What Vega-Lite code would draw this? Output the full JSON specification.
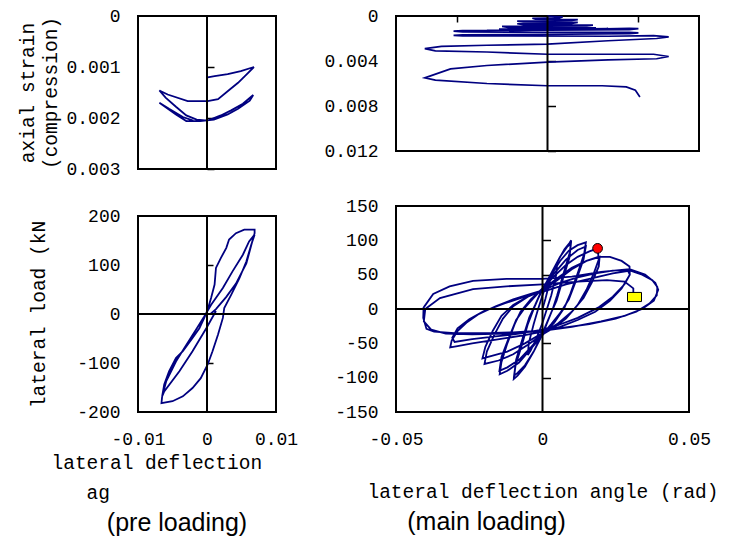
{
"$schema": "https://vega.github.io/schema/vega-lite/v6.json",
"padding": {"left": 16, "top": 6, "right": 0, "bottom": 0},
"config": {
  "view": {"stroke": "black", "strokeWidth": 2},
  "font": "Liberation Sans",
  "axis": {"labelFont": "Liberation Mono", "labelFontSize": 18, "labelColor": "black", "labelFlush": false, "titleFont": "Liberation Mono", "titleFontSize": 19.5, "titleFontWeight": "normal", "titleColor": "black", "grid": false, "format": "~r"},
  "title": {"font": "Liberation Sans", "fontSize": 25, "fontWeight": "normal", "color": "black"},
  "locale": {"number": {"decimal": ".", "thousands": ",", "grouping": [3], "currency": ["$", ""], "minus": "-"}}
},
"datasets": {
  "pre_strain": [{"i":1,"x":-0.0001,"y":0.00121},{"i":2,"x":0.0011,"y":0.00118},{"i":3,"x":0.003,"y":0.00114},{"i":4,"x":0.0049,"y":0.00108},{"i":5,"x":0.0068,"y":0.001},{"i":6,"x":0.006,"y":0.00111},{"i":7,"x":0.0045,"y":0.00131},{"i":8,"x":0.0033,"y":0.00144},{"i":9,"x":0.0016,"y":0.00163},{"i":10,"x":0.0001,"y":0.00167},{"i":11,"x":-0.0028,"y":0.00167},{"i":12,"x":-0.0057,"y":0.00154},{"i":13,"x":-0.0069,"y":0.00146},{"i":14,"x":-0.006,"y":0.0016},{"i":15,"x":-0.0045,"y":0.00178},{"i":16,"x":-0.003,"y":0.00195},{"i":17,"x":-0.0015,"y":0.00203},{"i":18,"x":0.0001,"y":0.00205},{"i":19,"x":0.002,"y":0.00195},{"i":20,"x":0.0035,"y":0.00185},{"i":21,"x":0.0052,"y":0.00172},{"i":22,"x":0.0067,"y":0.00155},{"i":23,"x":0.0062,"y":0.00166},{"i":24,"x":0.0045,"y":0.00182},{"i":25,"x":0.003,"y":0.00193},{"i":26,"x":0.001,"y":0.00203},{"i":27,"x":-0.001,"y":0.00206},{"i":28,"x":-0.003,"y":0.00206},{"i":29,"x":-0.0045,"y":0.00193},{"i":30,"x":-0.0069,"y":0.0017},{"i":31,"x":-0.0055,"y":0.00182},{"i":32,"x":-0.0035,"y":0.00198},{"i":33,"x":-0.002,"y":0.00205}],
  "pre_load": [{"i":1,"x":0.0005,"y":0},{"i":2,"x":0.0013,"y":10},{"i":3,"x":0.0028,"y":35},{"i":4,"x":0.0042,"y":62},{"i":5,"x":0.0057,"y":103},{"i":6,"x":0.0066,"y":150},{"i":7,"x":0.0069,"y":165},{"i":8,"x":0.0069,"y":172},{"i":9,"x":0.0054,"y":172},{"i":10,"x":0.0042,"y":165},{"i":11,"x":0.0032,"y":152},{"i":12,"x":0.0028,"y":135},{"i":13,"x":0.002,"y":114},{"i":14,"x":0.0013,"y":94},{"i":15,"x":0.0011,"y":60},{"i":16,"x":0.0006,"y":33},{"i":17,"x":0.0001,"y":9},{"i":18,"x":-0.0004,"y":-8},{"i":19,"x":-0.0011,"y":-29},{"i":20,"x":-0.0021,"y":-49},{"i":21,"x":-0.0035,"y":-76},{"i":22,"x":-0.0045,"y":-90},{"i":23,"x":-0.0055,"y":-117},{"i":24,"x":-0.0062,"y":-144},{"i":25,"x":-0.0065,"y":-168},{"i":26,"x":-0.0066,"y":-182},{"i":27,"x":-0.005,"y":-178},{"i":28,"x":-0.0035,"y":-168},{"i":29,"x":-0.0021,"y":-151},{"i":30,"x":-0.0009,"y":-131},{"i":31,"x":0.0001,"y":-103},{"i":32,"x":0.0008,"y":-76},{"i":33,"x":0.0016,"y":-42},{"i":34,"x":0.0023,"y":-8},{"i":35,"x":0.0025,"y":12},{"i":36,"x":0.0035,"y":39},{"i":37,"x":0.0047,"y":73},{"i":38,"x":0.0057,"y":107},{"i":39,"x":0.0064,"y":141},{"i":40,"x":0.0069,"y":162},{"i":41,"x":0.0061,"y":148},{"i":42,"x":0.0052,"y":121},{"i":43,"x":0.0037,"y":87},{"i":44,"x":0.0023,"y":53},{"i":45,"x":0.0006,"y":19},{"i":46,"x":-0.0004,"y":-5},{"i":47,"x":-0.0016,"y":-32},{"i":48,"x":-0.003,"y":-63},{"i":49,"x":-0.0045,"y":-97},{"i":50,"x":-0.0059,"y":-137},{"i":51,"x":-0.0065,"y":-168},{"i":52,"x":-0.0062,"y":-158},{"i":53,"x":-0.004,"y":-117},{"i":54,"x":-0.0021,"y":-76},{"i":55,"x":-0.0001,"y":-29},{"i":56,"x":0.0013,"y":6}],
  "main_strain": [{"i":1,"x":0,"y":0},{"i":2,"x":0.005,"y":0.00008},{"i":3,"x":0.004,"y":0.00016},{"i":4,"x":-0.005,"y":0.0002},{"i":5,"x":-0.004,"y":0.00028},{"i":6,"x":0.01,"y":0.00032},{"i":7,"x":0.008,"y":0.0004},{"i":8,"x":-0.01,"y":0.00045},{"i":9,"x":-0.008,"y":0.00053},{"i":10,"x":0.01,"y":0.00057},{"i":11,"x":0.008,"y":0.00065},{"i":12,"x":-0.01,"y":0.00069},{"i":13,"x":-0.008,"y":0.00077},{"i":14,"x":0.015,"y":0.00081},{"i":15,"x":0.013,"y":0.00089},{"i":16,"x":-0.015,"y":0.00093},{"i":17,"x":-0.013,"y":0.00101},{"i":18,"x":0.016,"y":0.00105},{"i":19,"x":0.014,"y":0.00112},{"i":20,"x":-0.016,"y":0.00116},{"i":21,"x":-0.014,"y":0.00123},{"i":22,"x":0.02,"y":0.00112},{"i":23,"x":0.018,"y":0.0012},{"i":24,"x":-0.02,"y":0.00128},{"i":25,"x":-0.018,"y":0.00135},{"i":26,"x":0.027,"y":0.0011},{"i":27,"x":0.03,"y":0.00112},{"i":28,"x":0.027,"y":0.00122},{"i":29,"x":-0.028,"y":0.0013},{"i":30,"x":-0.031,"y":0.00135},{"i":31,"x":-0.028,"y":0.00142},{"i":32,"x":0.027,"y":0.00145},{"i":33,"x":0.03,"y":0.0015},{"i":34,"x":0.027,"y":0.00158},{"i":35,"x":-0.028,"y":0.00168},{"i":36,"x":-0.031,"y":0.00172},{"i":37,"x":-0.028,"y":0.00176},{"i":38,"x":0.02,"y":0.0018},{"i":39,"x":0.035,"y":0.00175},{"i":40,"x":0.04,"y":0.00185},{"i":41,"x":0.036,"y":0.002},{"i":42,"x":0.02,"y":0.0022},{"i":43,"x":0,"y":0.0025},{"i":44,"x":-0.02,"y":0.0026},{"i":45,"x":-0.035,"y":0.0027},{"i":46,"x":-0.0405,"y":0.0029},{"i":47,"x":-0.037,"y":0.0031},{"i":48,"x":-0.02,"y":0.0032},{"i":49,"x":0,"y":0.0034},{"i":50,"x":0.02,"y":0.0034},{"i":51,"x":0.035,"y":0.0034},{"i":52,"x":0.04,"y":0.0036},{"i":53,"x":0.036,"y":0.0038},{"i":54,"x":0.02,"y":0.0039},{"i":55,"x":0,"y":0.0041},{"i":56,"x":-0.02,"y":0.0044},{"i":57,"x":-0.032,"y":0.0047},{"i":58,"x":-0.0405,"y":0.0055},{"i":59,"x":-0.037,"y":0.0057},{"i":60,"x":-0.02,"y":0.006},{"i":61,"x":0,"y":0.0062},{"i":62,"x":0.018,"y":0.0062},{"i":63,"x":0.026,"y":0.0063},{"i":64,"x":0.029,"y":0.0066},{"i":65,"x":0.0305,"y":0.0072}],
  "main_load": [{"i":1,"x":0,"y":0},{"i":2,"x":0.001,"y":15},{"i":3,"x":0.0025,"y":40},{"i":4,"x":0.004,"y":58},{"i":5,"x":0.005,"y":66},{"i":6,"x":0.0047,"y":50},{"i":7,"x":0.003,"y":20},{"i":8,"x":0.0015,"y":0},{"i":9,"x":0,"y":-20},{"i":10,"x":-0.002,"y":-42},{"i":11,"x":-0.004,"y":-60},{"i":12,"x":-0.005,"y":-67},{"i":13,"x":-0.0047,"y":-50},{"i":14,"x":-0.003,"y":-22},{"i":15,"x":-0.0015,"y":0},{"i":16,"x":0,"y":20},
  {"i":17,"x":0.002,"y":42},{"i":18,"x":0.005,"y":68},{"i":19,"x":0.0075,"y":87},{"i":20,"x":0.0092,"y":96},{"i":21,"x":0.0098,"y":100},{"i":22,"x":0.0093,"y":82},{"i":23,"x":0.0072,"y":52},{"i":24,"x":0.005,"y":20},{"i":25,"x":0.0035,"y":0},{"i":26,"x":0.002,"y":-15},{"i":27,"x":0,"y":-35},{"i":28,"x":-0.003,"y":-62},{"i":29,"x":-0.006,"y":-84},{"i":30,"x":-0.0085,"y":-97},{"i":31,"x":-0.0098,"y":-102},{"i":32,"x":-0.0092,"y":-82},{"i":33,"x":-0.007,"y":-52},{"i":34,"x":-0.005,"y":-22},{"i":35,"x":-0.003,"y":0},{"i":36,"x":-0.0015,"y":15},{"i":37,"x":0,"y":28},
  {"i":38,"x":0.003,"y":52},{"i":39,"x":0.006,"y":76},{"i":40,"x":0.0085,"y":91},{"i":41,"x":0.0097,"y":95},{"i":42,"x":0.0092,"y":75},{"i":43,"x":0.007,"y":44},{"i":44,"x":0.0048,"y":12},{"i":45,"x":0.003,"y":-5},{"i":46,"x":0,"y":-37},{"i":47,"x":-0.003,"y":-62},{"i":48,"x":-0.006,"y":-82},{"i":49,"x":-0.0085,"y":-93},{"i":50,"x":-0.0097,"y":-97},{"i":51,"x":-0.009,"y":-74},{"i":52,"x":-0.007,"y":-46},{"i":53,"x":-0.0045,"y":-12},{"i":54,"x":-0.0025,"y":6},{"i":55,"x":0,"y":30},
  {"i":56,"x":0.003,"y":50},{"i":57,"x":0.006,"y":70},{"i":58,"x":0.009,"y":85},{"i":59,"x":0.012,"y":93},{"i":60,"x":0.0148,"y":97},{"i":61,"x":0.0142,"y":80},{"i":62,"x":0.012,"y":52},{"i":63,"x":0.0095,"y":22},{"i":64,"x":0.0075,"y":2},{"i":65,"x":0.004,"y":-20},{"i":66,"x":0,"y":-38},{"i":67,"x":-0.004,"y":-58},{"i":68,"x":-0.008,"y":-78},{"i":69,"x":-0.012,"y":-90},{"i":70,"x":-0.0146,"y":-95},{"i":71,"x":-0.014,"y":-77},{"i":72,"x":-0.012,"y":-50},{"i":73,"x":-0.0095,"y":-22},{"i":74,"x":-0.0075,"y":-4},{"i":75,"x":-0.004,"y":14},{"i":76,"x":0,"y":30},
  {"i":77,"x":0.004,"y":52},{"i":78,"x":0.008,"y":72},{"i":79,"x":0.012,"y":86},{"i":80,"x":0.0148,"y":91},{"i":81,"x":0.014,"y":72},{"i":82,"x":0.0115,"y":42},{"i":83,"x":0.009,"y":14},{"i":84,"x":0.006,"y":-6},{"i":85,"x":0.003,"y":-22},{"i":86,"x":0,"y":-37},{"i":87,"x":-0.004,"y":-56},{"i":88,"x":-0.008,"y":-74},{"i":89,"x":-0.012,"y":-85},{"i":90,"x":-0.0147,"y":-90},{"i":91,"x":-0.014,"y":-70},{"i":92,"x":-0.0115,"y":-42},{"i":93,"x":-0.009,"y":-16},{"i":94,"x":-0.006,"y":2},{"i":95,"x":-0.003,"y":16},{"i":96,"x":0,"y":30},
  {"i":97,"x":0.004,"y":48},{"i":98,"x":0.008,"y":64},{"i":99,"x":0.012,"y":76},{"i":100,"x":0.016,"y":84},{"i":101,"x":0.0188,"y":88},{"i":102,"x":0.0192,"y":72},{"i":103,"x":0.0175,"y":52},{"i":104,"x":0.015,"y":28},{"i":105,"x":0.012,"y":6},{"i":106,"x":0.008,"y":-14},{"i":107,"x":0.004,"y":-27},{"i":108,"x":0,"y":-37},{"i":109,"x":-0.005,"y":-52},{"i":110,"x":-0.01,"y":-66},{"i":111,"x":-0.015,"y":-75},{"i":112,"x":-0.0198,"y":-80},{"i":113,"x":-0.019,"y":-62},{"i":114,"x":-0.0165,"y":-38},{"i":115,"x":-0.0135,"y":-14},{"i":116,"x":-0.01,"y":4},{"i":117,"x":-0.005,"y":18},{"i":118,"x":0,"y":28},
  {"i":119,"x":0.005,"y":45},{"i":120,"x":0.01,"y":60},{"i":121,"x":0.015,"y":70},{"i":122,"x":0.0195,"y":76},{"i":123,"x":0.0192,"y":62},{"i":124,"x":0.017,"y":40},{"i":125,"x":0.014,"y":16},{"i":126,"x":0.01,"y":-4},{"i":127,"x":0.005,"y":-22},{"i":128,"x":0,"y":-35},{"i":129,"x":-0.006,"y":-50},{"i":130,"x":-0.012,"y":-62},{"i":131,"x":-0.017,"y":-68},{"i":132,"x":-0.0205,"y":-72},{"i":133,"x":-0.0195,"y":-55},{"i":134,"x":-0.017,"y":-32},{"i":135,"x":-0.014,"y":-10},{"i":136,"x":-0.01,"y":6},{"i":137,"x":-0.005,"y":18},{"i":138,"x":0,"y":27},
  {"i":139,"x":0.005,"y":42},{"i":140,"x":0.01,"y":58},{"i":141,"x":0.015,"y":70},{"i":142,"x":0.019,"y":76},{"i":143,"x":0.023,"y":76},{"i":144,"x":0.027,"y":70},{"i":145,"x":0.0297,"y":62},{"i":146,"x":0.0298,"y":50},{"i":147,"x":0.027,"y":30},{"i":148,"x":0.023,"y":12},{"i":149,"x":0.018,"y":-4},{"i":150,"x":0.012,"y":-16},{"i":151,"x":0.006,"y":-26},{"i":152,"x":0,"y":-33},{"i":153,"x":-0.006,"y":-38},{"i":154,"x":-0.012,"y":-42},{"i":155,"x":-0.018,"y":-46},{"i":156,"x":-0.024,"y":-50},{"i":157,"x":-0.029,"y":-54},{"i":158,"x":-0.0315,"y":-56},{"i":159,"x":-0.031,"y":-46},{"i":160,"x":-0.029,"y":-32},{"i":161,"x":-0.026,"y":-20},{"i":162,"x":-0.022,"y":-8},{"i":163,"x":-0.016,"y":4},{"i":164,"x":-0.01,"y":14},{"i":165,"x":-0.004,"y":22},{"i":166,"x":0,"y":27},
  {"i":167,"x":0.006,"y":38},{"i":168,"x":0.012,"y":46},{"i":169,"x":0.018,"y":52},{"i":170,"x":0.024,"y":56},{"i":171,"x":0.029,"y":57},{"i":172,"x":0.0298,"y":50},{"i":173,"x":0.028,"y":36},{"i":174,"x":0.024,"y":18},{"i":175,"x":0.019,"y":2},{"i":176,"x":0.012,"y":-13},{"i":177,"x":0.005,"y":-24},{"i":178,"x":0,"y":-30},{"i":179,"x":-0.008,"y":-36},{"i":180,"x":-0.016,"y":-40},{"i":181,"x":-0.024,"y":-44},{"i":182,"x":-0.03,"y":-48},{"i":183,"x":-0.0308,"y":-42},{"i":184,"x":-0.029,"y":-28},{"i":185,"x":-0.025,"y":-15},{"i":186,"x":-0.02,"y":-3},{"i":187,"x":-0.013,"y":8},{"i":188,"x":-0.006,"y":18},{"i":189,"x":0,"y":25},
  {"i":190,"x":0.008,"y":36},{"i":191,"x":0.016,"y":44},{"i":192,"x":0.024,"y":52},{"i":193,"x":0.03,"y":56},{"i":194,"x":0.034,"y":50},{"i":195,"x":0.0375,"y":42},{"i":196,"x":0.0392,"y":32},{"i":197,"x":0.039,"y":20},{"i":198,"x":0.0365,"y":8},{"i":199,"x":0.032,"y":-4},{"i":200,"x":0.025,"y":-14},{"i":201,"x":0.016,"y":-22},{"i":202,"x":0.006,"y":-28},{"i":203,"x":0,"y":-31},{"i":204,"x":-0.01,"y":-34},{"i":205,"x":-0.02,"y":-35},{"i":206,"x":-0.03,"y":-35},{"i":207,"x":-0.037,"y":-33},{"i":208,"x":-0.0396,"y":-29},{"i":209,"x":-0.0407,"y":-13},{"i":210,"x":-0.0406,"y":2},{"i":211,"x":-0.0373,"y":22},{"i":212,"x":-0.0317,"y":33},{"i":213,"x":-0.0237,"y":41},{"i":214,"x":-0.0123,"y":44},{"i":215,"x":0,"y":44},{"i":216,"x":0.01,"y":47},{"i":217,"x":0.02,"y":54},{"i":218,"x":0.0297,"y":58},{"i":219,"x":0.035,"y":50},{"i":220,"x":0.0385,"y":38},{"i":221,"x":0.0395,"y":28},{"i":222,"x":0.038,"y":12},{"i":223,"x":0.034,"y":0},{"i":224,"x":0.028,"y":-10},{"i":225,"x":0.02,"y":-18},{"i":226,"x":0.01,"y":-26},{"i":227,"x":0,"y":-32},{"i":228,"x":-0.012,"y":-36},{"i":229,"x":-0.024,"y":-37},{"i":230,"x":-0.033,"y":-36},{"i":231,"x":-0.038,"y":-30},{"i":232,"x":-0.0405,"y":-18},{"i":233,"x":-0.04,"y":0},{"i":234,"x":-0.035,"y":16},{"i":235,"x":-0.0237,"y":29},{"i":236,"x":-0.0123,"y":33},{"i":237,"x":0,"y":36},{"i":238,"x":0.012,"y":40},{"i":239,"x":0.022,"y":42},{"i":240,"x":0.028,"y":40},{"i":241,"x":0.031,"y":30},{"i":242,"x":0.031,"y":20}],
  "markers": [{"kind":"peak","x":0.0188,"y":88.3},{"kind":"end","x":0.0314,"y":17.5}]
},
"spacing": 23,
"hconcat": [
  {"spacing": 27, "vconcat": [
    {"width": 138, "height": 153,
     "layer": [
       {"data": {"name": "pre_strain"}, "mark": {"type": "line", "color": "#000080", "strokeWidth": 1.8},
        "encoding": {
          "x": {"field": "x", "type": "quantitative", "scale": {"domain": [-0.01, 0.01], "nice": false}, "axis": null},
          "y": {"field": "y", "type": "quantitative", "scale": {"domain": [0, 0.003], "reverse": true, "nice": false},
                "axis": {"values": [0, 0.001, 0.002, 0.003], "ticks": false, "domain": false, "labelPadding": 18, "title": ["axial strain", "(compression)"], "titlePadding": 5, "titleLineHeight": 23}},
          "order": {"field": "i"}}},
       {"data": {"values": [{}]}, "mark": {"type": "rule", "color": "black", "strokeWidth": 2},
        "encoding": {
          "x": {"datum": 0, "type": "quantitative", "scale": {"domain": [-0.01, 0.01], "nice": false}, "axis": null},
          "y": {"datum": 0, "type": "quantitative", "scale": {"domain": [0, 0.003], "reverse": true, "nice": false},
                "axis": {"orient": "right", "offset": -69, "values": [0.001, 0.002, 0.003], "labels": false, "domain": false, "tickSize": 7, "tickColor": "black", "tickWidth": 1.5, "title": null}},
          "y2": {"datum": 0.003}}}
     ],
     "resolve": {"axis": {"y": "independent"}}},
    {"width": 138, "height": 196,
     "title": {"text": "(pre loading)", "orient": "bottom", "anchor": "middle", "dx": -30, "offset": 9},
     "layer": [
       {"data": {"name": "pre_load"}, "mark": {"type": "line", "color": "#000080", "strokeWidth": 1.8},
        "encoding": {
          "x": {"field": "x", "type": "quantitative", "scale": {"domain": [-0.01, 0.01], "nice": false},
                "axis": {"values": [-0.01, 0, 0.01], "ticks": false, "domain": false, "labelPadding": 18, "title": ["lateral deflection", "\u200b\u00a0\u00a0\u00a0ag"], "titleAlign": "left", "titleX": -87, "titlePadding": 5, "titleLineHeight": 30}},
          "y": {"field": "y", "type": "quantitative", "scale": {"domain": [-200, 200], "nice": false},
                "axis": {"values": [-200, -100, 0, 100, 200], "ticks": false, "domain": false, "labelPadding": 18, "title": "lateral load (kN", "titlePadding": 28}},
          "order": {"field": "i"}}},
       {"data": {"values": [{}]}, "mark": {"type": "rule", "color": "black", "strokeWidth": 2},
        "encoding": {
          "x": {"datum": 0, "type": "quantitative", "scale": {"domain": [-0.01, 0.01], "nice": false}},
          "y": {"datum": -200, "type": "quantitative", "scale": {"domain": [-200, 200], "nice": false},
                "axis": {"orient": "right", "offset": -69, "values": [-100, 100], "labels": false, "domain": false, "tickSize": 6, "tickColor": "black", "tickWidth": 1.5, "title": null}},
          "y2": {"datum": 200}}},
       {"data": {"values": [{}]}, "mark": {"type": "rule", "color": "black", "strokeWidth": 2},
        "encoding": {"y": {"datum": 0, "type": "quantitative", "scale": {"domain": [-200, 200], "nice": false}, "axis": null}}}
     ],
     "resolve": {"axis": {"y": "independent"}}}
  ]},
  {"spacing": 35, "vconcat": [
    {"width": 303, "height": 135,
     "layer": [
       {"data": {"name": "main_strain"}, "mark": {"type": "line", "color": "#000080", "strokeWidth": 1.7},
        "encoding": {
          "x": {"field": "x", "type": "quantitative", "scale": {"domain": [-0.05, 0.05], "nice": false},
                "axis": {"orient": "bottom", "offset": -135, "values": [-0.03, 0.03], "labels": false, "domain": false, "tickSize": 6, "tickColor": "black", "tickWidth": 1.5, "title": null}},
          "y": {"field": "y", "type": "quantitative", "scale": {"domain": [0, 0.012], "reverse": true, "nice": false},
                "axis": {"values": [0, 0.004, 0.008, 0.012], "ticks": false, "domain": false, "labelPadding": 18, "title": null}},
          "order": {"field": "i"}}},
       {"data": {"values": [{}]}, "mark": {"type": "rule", "color": "black", "strokeWidth": 2},
        "encoding": {
          "x": {"datum": 0, "type": "quantitative", "scale": {"domain": [-0.05, 0.05], "nice": false}},
          "y": {"datum": 0, "type": "quantitative", "scale": {"domain": [0, 0.012], "reverse": true, "nice": false},
                "axis": {"orient": "right", "offset": -151.5, "values": [0.004, 0.008, 0.012], "labels": false, "domain": false, "tickSize": 8, "tickColor": "black", "tickWidth": 1.5, "title": null}},
          "y2": {"datum": 0.012}}}
     ],
     "resolve": {"axis": {"y": "independent"}}},
    {"width": 293, "height": 206,
     "title": {"text": "(main loading)", "orient": "bottom", "anchor": "middle", "dx": -56, "offset": 9},
     "layer": [
       {"data": {"name": "main_load"}, "mark": {"type": "line", "color": "#000080", "strokeWidth": 1.8},
        "encoding": {
          "x": {"field": "x", "type": "quantitative", "scale": {"domain": [-0.05, 0.05], "nice": false},
                "axis": {"values": [-0.05, 0, 0.05], "ticks": false, "domain": false, "labelPadding": 18, "title": "lateral deflection angle (rad)", "titlePadding": 34}},
          "y": {"field": "y", "type": "quantitative", "scale": {"domain": [-150, 150], "nice": false},
                "axis": {"values": [-150, -100, -50, 0, 50, 100, 150], "ticks": false, "domain": false, "labelPadding": 18, "title": null}},
          "order": {"field": "i"}}},
       {"data": {"values": [{}]}, "mark": {"type": "rule", "color": "black", "strokeWidth": 2},
        "encoding": {
          "x": {"datum": 0, "type": "quantitative", "scale": {"domain": [-0.05, 0.05], "nice": false}},
          "y": {"datum": -150, "type": "quantitative", "scale": {"domain": [-150, 150], "nice": false},
                "axis": {"orient": "right", "offset": -146.5, "values": [-100, -50, 50, 100], "labels": false, "domain": false, "tickSize": 8, "tickColor": "black", "tickWidth": 1.5, "title": null}},
          "y2": {"datum": 150}}},
       {"data": {"values": [{}]}, "mark": {"type": "rule", "color": "black", "strokeWidth": 2},
        "encoding": {"y": {"datum": 0, "type": "quantitative", "scale": {"domain": [-150, 150], "nice": false}, "axis": null}}},
       {"data": {"name": "markers"}, "transform": [{"filter": "datum.kind == 'peak'"}],
        "mark": {"type": "point", "shape": "circle", "filled": true, "fill": "#ff0000", "stroke": "black", "strokeWidth": 1, "size": 95, "opacity": 1},
        "encoding": {"x": {"field": "x", "type": "quantitative"}, "y": {"field": "y", "type": "quantitative", "axis": null}}},
       {"data": {"name": "markers"}, "transform": [{"filter": "datum.kind == 'end'"}],
        "mark": {"type": "point", "shape": "M-1,-0.65L1,-0.65L1,0.65L-1,0.65Z", "filled": true, "fill": "#ffff00", "stroke": "black", "strokeWidth": 1, "size": 196, "opacity": 1},
        "encoding": {"x": {"field": "x", "type": "quantitative"}, "y": {"field": "y", "type": "quantitative", "axis": null}}}
     ],
     "resolve": {"axis": {"y": "independent"}}}
  ]}
]
}
